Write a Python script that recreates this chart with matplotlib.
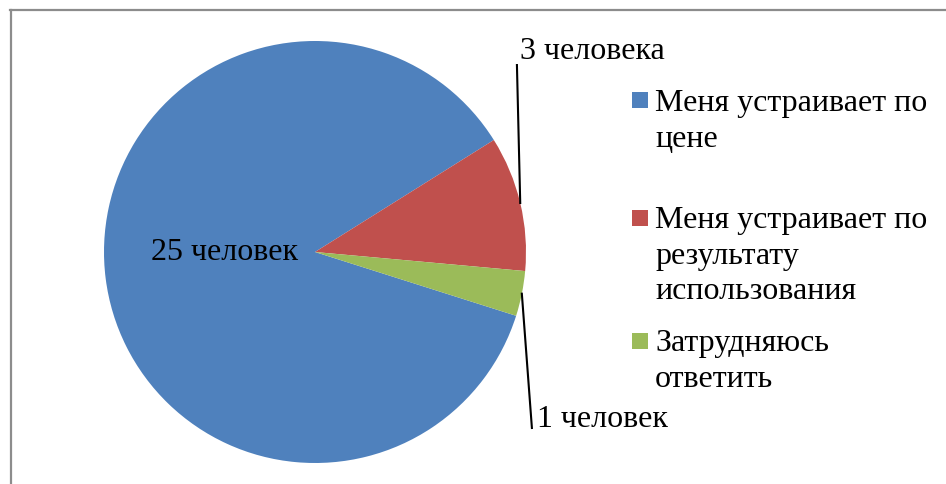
import matplotlib
matplotlib.use("Agg")
import matplotlib.pyplot as plt
import numpy as np
from matplotlib.patches import Rectangle
from matplotlib.lines import Line2D

categories = ["Меня устраивает по\nцене",
              "Меня устраивает по\nрезультату\nиспользования",
              "Затрудняюсь\nответить"]
values = [25, 3, 1]
value_labels = ["25 человек", "3 человека", "1 человек"]
colors = ["#4F81BD", "#C0504D", "#9BBB59"]

plt.rcParams["font.family"] = ["Liberation Serif", "DejaVu Serif"]

W, H = 946, 484
fig = plt.figure(figsize=(W / 100, H / 100), dpi=100)


def px(x, y):
    return x / W, 1 - y / H


# pie axes, center (315, 252), radius 211 px
cx, cy, r = 315, 252, 211
ax = fig.add_axes([(cx - r) / W, (H - cy - r) / H, 2 * r / W, 2 * r / H])
start = -17.6
wedges, _ = ax.pie(values, colors=colors, startangle=start, counterclock=False,
                   radius=1, wedgeprops=dict(linewidth=0))
ax.set_xlim(-1, 1)
ax.set_ylim(-1, 1)
ax.set_aspect("equal")
ax.axis("off")

fs = 23
# inside label for the big slice
ax.text(-0.43, 0.0, value_labels[0], fontsize=fs, ha="center", va="center")

# outside labels with leader lines
label_pos = {1: (0.972, 0.948), 2: (1.052, -0.796)}
line_end = {1: (0.957, 0.886), 2: (1.028, -0.834)}
for i in (1, 2):
    w = wedges[i]
    mid = np.deg2rad((w.theta1 + w.theta2) / 2)
    x0, y0 = np.cos(mid), np.sin(mid)
    x1, y1 = line_end[i]
    ax.plot([x0, x1], [y0, y1], color="black", lw=1.5, clip_on=False)
    tx, ty = label_pos[i]
    ax.text(tx, ty, value_labels[i], fontsize=fs, ha="left", va="center")

# legend: square centre and first text line position (pixels from top)
square_y = [100, 218, 341]
text_y = [89, 206, 329]
for lab, col, sy, ty0 in zip(categories, colors, square_y, text_y):
    x, y = px(632, sy + 8)
    fig.add_artist(Rectangle((x, y), 16 / W, 16 / H, transform=fig.transFigure,
                             facecolor=col, edgecolor="none"))
    tx, ty = px(655, ty0)
    fig.text(tx, ty, lab, fontsize=fs, ha="left", va="top", linespacing=1.3)

# chart frame
fig.add_artist(Line2D([10 / W, 1], [1 - 9.5 / H, 1 - 9.5 / H], color="#8c8c8c",
                      lw=1.6, transform=fig.transFigure))
fig.add_artist(Line2D([10.5 / W, 10.5 / W], [0, 1 - 9.5 / H], color="#8c8c8c",
                      lw=1.6, transform=fig.transFigure))

fig.savefig("out.png", dpi=100, facecolor="white")
